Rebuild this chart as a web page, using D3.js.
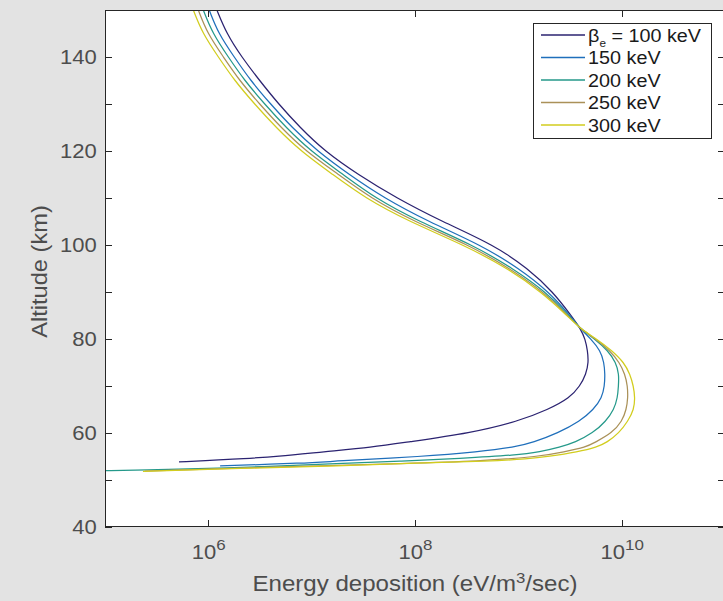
<!DOCTYPE html>
<html>
<head>
<meta charset="utf-8">
<script src="https://cdn.jsdelivr.net/npm/d3@7"></script>
<style>
  html, body { margin: 0; padding: 0; background: #e3e3e3; }
  svg { display: block; font-family: "Liberation Sans", Arial, Helvetica, sans-serif; }
</style>
</head>
<body>
<svg id="chart" width="723" height="601"></svg>
<script>
// Characteristic energies of the precipitating electron spectra
const seriesLabels = ["100 keV", "150 keV", "200 keV", "250 keV", "300 keV"];

// Axis ticks
const altTicks = [40, 50, 60, 70, 80, 90, 100, 110, 120, 130, 140, 150];
const depTicks = [1e6, 1e8, 1e10];

// Altitude profiles (km) and energy deposition rates (eV/m^3/sec)
const alt100 = [150,145,140,135,130,125,120,115,110,105,100,95,90,85,82,80,77.5,75,72.5,70,67.5,65,62.5,60,58,57,56,55,54.5,54.3,53.85];
const dep100 = [1.21e6,1.50e6,2.10e6,3.13e6,4.78e6,7.71e6,1.33e7,2.80e7,6.60e7,1.82e8,5.82e8,1.24e9,2.17e9,3.24e9,4.05e9,4.43e9,4.68e9,4.78e9,4.52e9,3.95e9,3.16e9,1.95e9,1.0e9,3.5e8,8.0e7,3.93e7,1.29e7,4.72e6,2.02e6,1.39e6,5.2e5];

const alt150 = [150,145,140,135,130,125,120,115,110,105,100,95,90,85,82,80,77.5,75,72.5,70,67.5,65,62.5,60,58,57,56,55,54,53.6,53.0];
const dep150 = [1.02e6,1.25e6,1.78e6,2.56e6,4.00e6,6.45e6,1.13e7,2.30e7,5.01e7,1.34e8,4.35e8,1.02e9,1.98e9,3.16e9,4.05e9,5.05e9,6.24e9,6.75e9,6.90e9,6.82e9,6.45e9,5.35e9,3.95e9,2.42e9,1.39e9,9.3e8,4.07e8,1.20e8,1.61e7,9.0e6,1.30e6];

const alt200 = [150,145,140,135,130,125,120,115,110,105,100,95,90,85,82,80,77.5,75,72.5,70,67.5,65,62.5,60,58,57,56,55.3,54.6,54.0,53.5,52.45,52.1,52.0];
const dep200 = [8.94e5,1.10e6,1.56e6,2.24e6,3.50e6,5.65e6,9.75e6,2.02e7,4.10e7,1.09e8,3.64e8,8.88e8,1.85e9,3.10e9,4.05e9,5.52e9,7.38e9,8.81e9,9.42e9,9.31e9,9.12e9,8.43e9,7.05e9,5.28e9,3.54e9,2.53e9,1.62e9,9.7e8,2.73e8,7.16e7,1.88e7,1.30e6,2.18e5,1.0e5];

const alt250 = [150,145,140,135,130,125,120,115,110,105,100,95,90,85,82,80,77.5,75,72.5,70,67.5,65,62.5,60,58,57,56,55,54,53.5,53,52.5,51.9];
const dep250 = [8.0e5,9.8e5,1.40e6,2.00e6,3.13e6,5.05e6,8.71e6,1.82e7,3.71e7,9.77e7,3.33e8,8.30e8,1.75e9,3.03e9,4.05e9,5.65e9,7.71e9,9.53e9,1.077e10,1.14e10,1.15e10,1.11e10,1.01e10,8.07e9,5.52e9,4.52e9,2.77e9,1.62e9,4.26e8,7.16e7,1.2e7,1.62e6,2.44e5];

const alt300 = [150,145,140,135,130,125,120,115,110,105,100,95,90,85,82,80,77.5,75,72.5,70,67.5,65,62.5,60,58,57,56,55,54.5,54,53.6,53,52.5,51.85];
const dep300 = [7.16e5,8.8e5,1.25e6,1.79e6,2.80e6,4.52e6,7.80e6,1.60e7,3.28e7,8.75e7,2.98e8,7.94e8,1.67e9,2.96e9,4.05e9,5.77e9,8.07e9,1.054e10,1.205e10,1.30e10,1.346e10,1.315e10,1.15e10,9.42e9,7.21e9,5.77e9,3.78e9,1.94e9,1.24e9,5.32e8,1.05e8,1.88e7,2.03e6,2.33e5];

const seriesColors = ["#2b2371", "#1f6fbb", "#25998a", "#aa9158", "#d2cd1e"];

const altitudes = [alt100, alt150, alt200, alt250, alt300];
const depositions = [dep100, dep150, dep200, dep250, dep300];
const series = seriesLabels.map((label, i) => ({
  label,
  color: seriesColors[i],
  points: altitudes[i].map((a, j) => ({ alt: a, dep: depositions[i][j] }))
}));

const svg = d3.select("#chart");
const plot = { left: 105, right: 725, top: 10, bottom: 527 };

const x = d3.scaleLog().domain([1e5, 1e11]).range([plot.left, plot.right]);
const y = d3.scaleLinear().domain([40, 150]).range([plot.bottom, plot.top]);

const axisColor = "#262626";
const labelColor = "#4d4d4d";
const wide = 1.13; // horizontal stretch of the label face

// plot background
svg.append("rect")
  .attr("x", plot.left).attr("y", plot.top)
  .attr("width", plot.right - plot.left).attr("height", plot.bottom - plot.top)
  .attr("fill", "#ffffff");

svg.append("clipPath").attr("id", "plot-clip")
  .append("rect")
  .attr("x", plot.left).attr("y", plot.top)
  .attr("width", plot.right - plot.left).attr("height", plot.bottom - plot.top);

// profiles: smoothed spline through the sampled altitudes
const line = d3.line()
  .x(d => x(d.dep))
  .y(d => y(d.alt))
  .curve(d3.curveBasis);

svg.append("g").attr("clip-path", "url(#plot-clip)")
  .selectAll("path")
  .data(series)
  .join("path")
  .attr("d", d => line(d.points))
  .attr("fill", "none")
  .attr("stroke", d => d.color)
  .attr("stroke-width", 1.25)
  .attr("stroke-linejoin", "round");

// axes (ticks point inward)
const tickLen = 7;
const styleAxis = g => {
  g.select(".domain").remove();
  g.selectAll(".tick line").attr("stroke", axisColor).attr("shape-rendering", "crispEdges");
  g.selectAll(".tick text").attr("fill", labelColor).attr("font-size", 19.5)
    .attr("font-family", "Liberation Sans, Arial, sans-serif");
};

const leftAxis = svg.append("g")
  .attr("transform", `translate(${plot.left},0)`)
  .call(d3.axisLeft(y).tickValues(altTicks)
    .tickFormat(d => (d % 20 === 0 && d < 150) ? d : "")
    .tickSizeInner(-tickLen).tickSizeOuter(0).tickPadding(7.3))
  .call(styleAxis);
leftAxis.selectAll(".tick text").attr("transform", `scale(${wide},1)`);

svg.append("g")
  .attr("transform", `translate(${plot.right},0)`)
  .call(d3.axisRight(y).tickValues(altTicks).tickFormat(() => "")
    .tickSizeInner(-tickLen).tickSizeOuter(0))
  .call(styleAxis);

const bottomAxis = svg.append("g")
  .attr("transform", `translate(0,${plot.bottom})`)
  .call(d3.axisBottom(x).tickValues(depTicks).tickFormat(() => "")
    .tickSizeInner(-tickLen).tickSizeOuter(0))
  .call(styleAxis);

bottomAxis.selectAll(".tick text").remove();
bottomAxis.selectAll(".tick").append("text")
  .attr("y", 32)
  .attr("transform", `scale(${wide},1)`)
  .attr("text-anchor", "middle")
  .attr("fill", labelColor)
  .attr("font-size", 19.5)
  .each(function (d) {
    const t = d3.select(this);
    t.append("tspan").text("10");
    t.append("tspan").attr("dy", -9).attr("font-size", 15)
      .text(Math.round(Math.log10(d)));
  });

svg.append("g")
  .attr("transform", `translate(0,${plot.top})`)
  .call(d3.axisTop(x).tickValues(depTicks).tickFormat(() => "")
    .tickSizeInner(-tickLen).tickSizeOuter(0))
  .call(styleAxis);

// frame
svg.append("rect")
  .attr("x", plot.left + 0.5).attr("y", plot.top + 0.5)
  .attr("width", plot.right - plot.left - 1).attr("height", plot.bottom - plot.top - 1)
  .attr("fill", "none")
  .attr("stroke", axisColor)
  .attr("stroke-width", 1);

// axis titles
const xTitle = svg.append("text")
  .attr("transform", `translate(${(plot.left + plot.right) / 2},591) scale(1.12,1)`)
  .attr("text-anchor", "middle")
  .attr("fill", labelColor)
  .attr("font-size", 21.5);
xTitle.append("tspan").text("Energy deposition (eV/m");
xTitle.append("tspan").attr("dy", -8.5).attr("font-size", 15).text("3");
xTitle.append("tspan").attr("dy", 8.5).text("/sec)");

svg.append("text")
  .attr("transform", `translate(47,${(plot.top + plot.bottom) / 2 + 3}) rotate(-90) scale(1.1,1)`)
  .attr("text-anchor", "middle")
  .attr("fill", labelColor)
  .attr("font-size", 21.5)
  .text("Altitude (km)");

// legend
const legend = svg.append("g");
legend.append("rect")
  .attr("x", 533.5).attr("y", 23.5)
  .attr("width", 178).attr("height", 115)
  .attr("fill", "#ffffff")
  .attr("stroke", axisColor)
  .attr("stroke-width", 1);

const rows = legend.selectAll("g.row")
  .data(series)
  .join("g")
  .attr("class", "row")
  .attr("transform", (d, i) => `translate(0,${35 + i * 22.5})`);

rows.append("line")
  .attr("x1", 541).attr("x2", 585)
  .attr("stroke", d => d.color)
  .attr("stroke-width", 1.3);

rows.append("text")
  .attr("transform", "translate(588,6.7) scale(1.07,1)")
  .attr("fill", "#1a1a1a")
  .attr("font-size", 18.5)
  .each(function (d, i) {
    const t = d3.select(this);
    if (i === 0) {
      t.append("tspan").text("β");
      t.append("tspan").attr("dy", 5).attr("font-size", 11).text("e");
      t.append("tspan").attr("dy", -5).text(" = " + d.label);
    } else {
      t.text(d.label);
    }
  });
</script>
</body>
</html>
